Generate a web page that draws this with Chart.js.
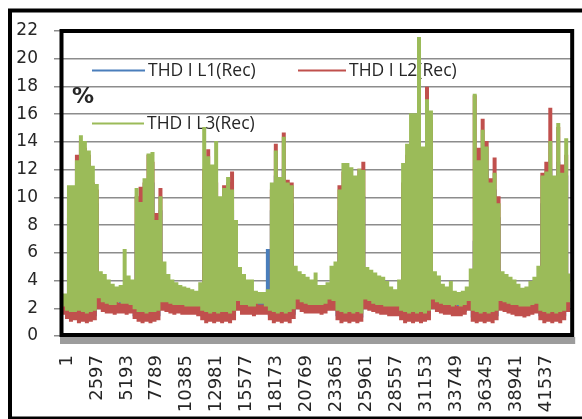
<!DOCTYPE html>
<html><head><meta charset="utf-8">
<script src="https://cdn.jsdelivr.net/npm/chart.js@4.4.1/dist/chart.umd.min.js"></script>
<style>html,body{margin:0;padding:0;background:#fff}</style>
</head><body>
<canvas id="c" width="582" height="419" style="width:582px;height:419px;display:block"></canvas>
<script>
// ---- data (each bin = one min/max pair of the dense record) ----
const seriesNames = ['THD I L1(Rec)', 'THD I L2(Rec)', 'THD I L3(Rec)'];
const xTickLabels = [1,2597,5193,7789,10385,12981,15577,18173,20769,23365,25961,28557,31153,33749,36345,38941,41537];
const recordsPerBin = 345;

const l3High = [3.0,10.8,10.8,12.6,14.4,14.0,13.3,12.2,10.9,4.6,4.4,4.0,3.7,3.5,3.6,6.2,4.3,4.0,10.6,9.6,11.3,13.1,13.2,8.3,10.0,5.3,4.4,4.0,3.8,3.6,3.5,3.4,3.3,3.2,3.8,15.0,12.9,12.3,14.0,10.0,10.6,11.4,10.5,8.3,4.9,4.4,4.0,4.0,3.2,3.1,3.1,3.3,11.0,13.3,11.4,14.3,11.0,10.8,5.0,4.6,4.4,4.2,4.0,4.5,3.6,3.6,3.8,5.0,5.3,10.5,12.4,12.4,12.1,11.5,12.0,11.9,4.9,4.7,4.5,4.3,4.2,3.9,3.5,3.3,4.0,12.4,13.8,16.0,16.0,21.5,13.6,17.0,16.2,4.6,4.3,3.7,3.5,3.9,3.2,3.1,3.2,3.5,4.8,17.4,12.6,14.8,13.6,11.0,11.7,9.5,4.6,4.4,4.2,4.0,3.7,3.4,3.5,3.9,4.2,5.0,11.5,11.8,14.0,11.5,15.3,11.7,14.2,4.5];
const l3Low  = [2.2,1.9,1.8,1.8,1.9,1.8,1.7,1.8,1.9,2.8,2.5,2.4,2.3,2.3,2.5,2.4,2.4,2.3,2.0,1.8,1.8,1.7,1.8,1.8,1.9,2.5,2.5,2.4,2.3,2.3,2.3,2.2,2.2,2.2,2.2,1.9,1.8,1.7,1.8,1.7,1.8,1.8,1.7,1.9,2.6,2.3,2.3,2.2,2.2,2.4,2.4,2.2,1.9,1.8,1.7,1.8,1.7,1.8,2.0,2.7,2.5,2.4,2.3,2.3,2.3,2.3,2.4,2.7,2.6,1.9,1.8,1.7,1.8,1.7,1.8,1.7,2.7,2.6,2.4,2.3,2.3,2.2,2.2,2.2,2.2,1.9,1.8,1.7,1.8,1.7,1.8,1.7,1.9,2.7,2.5,2.4,2.3,2.3,2.2,2.3,2.2,2.3,2.6,1.9,1.8,1.7,1.8,1.7,1.8,1.9,2.6,2.5,2.4,2.3,2.3,2.2,2.2,2.2,2.3,2.4,1.9,1.8,1.7,1.8,1.7,1.8,1.9,2.5];
const l2High = [2.3,10.0,10.5,13.0,14.0,13.5,13.0,11.0,10.5,2.9,2.6,2.5,2.4,2.4,2.3,2.5,2.5,2.4,10.0,10.7,11.0,13.0,12.5,8.8,10.6,3.2,2.8,2.5,2.4,2.4,2.4,2.3,2.3,2.3,2.3,12.0,13.4,11.7,11.0,9.0,10.8,11.0,11.8,8.0,2.8,2.4,2.4,2.3,2.3,2.2,2.2,2.3,10.5,13.8,11.0,14.6,11.2,11.0,3.0,3.1,2.8,2.5,2.5,2.4,2.4,2.4,2.6,2.9,3.0,10.8,11.8,11.5,11.0,11.0,12.0,12.5,3.1,2.8,2.6,2.5,2.4,2.3,2.3,2.3,2.3,11.0,13.0,13.8,15.5,16.0,13.0,17.9,15.5,3.2,2.8,2.6,2.4,2.4,2.3,2.1,2.3,2.5,3.1,17.3,13.5,15.6,14.0,11.3,12.8,10.0,2.9,2.8,2.6,2.5,2.2,2.1,2.1,2.3,2.5,2.7,11.7,12.5,16.4,11.0,15.0,12.3,13.0,3.0];
const l2Low  = [1.6,1.3,1.1,1.2,1.0,1.1,1.0,1.1,1.2,2.0,1.8,1.7,1.7,1.6,1.7,1.7,1.6,1.7,1.3,1.1,1.0,1.1,1.0,1.1,1.2,1.9,1.8,1.7,1.6,1.7,1.6,1.6,1.6,1.6,1.5,1.2,1.0,1.1,1.0,1.1,1.0,1.1,1.0,1.2,1.9,1.6,1.6,1.6,1.5,1.6,1.6,1.6,1.2,1.0,1.1,1.0,1.1,1.0,1.3,2.0,1.8,1.7,1.7,1.7,1.7,1.6,1.7,1.9,1.9,1.2,1.0,1.1,1.0,1.1,1.0,1.1,2.0,1.9,1.8,1.7,1.6,1.6,1.5,1.5,1.5,1.2,1.0,1.1,1.0,1.1,1.0,1.1,1.2,2.0,1.8,1.7,1.6,1.6,1.5,1.5,1.5,1.6,1.9,1.1,1.0,1.1,1.0,1.1,1.0,1.2,1.9,1.8,1.7,1.6,1.5,1.5,1.4,1.5,1.6,1.7,1.2,1.0,1.1,1.0,1.1,1.0,1.2,1.8];
const l1High = [2.1,8.5,9.0,10.5,12.0,12.0,11.5,10.5,9.5,2.6,2.4,2.3,2.2,2.2,2.4,2.3,2.3,2.2,8.0,8.5,9.5,11.0,11.0,7.5,9.0,2.8,2.5,2.3,2.2,2.2,2.2,2.1,2.1,2.1,2.1,10.5,11.0,10.5,10.0,8.0,9.0,9.5,9.0,7.0,2.5,2.2,2.2,2.1,2.1,2.3,2.3,6.2,9.0,11.5,10.0,12.0,9.5,9.5,2.6,2.7,2.5,2.3,2.3,2.2,2.2,2.2,2.3,2.6,2.7,9.0,10.5,10.5,10.0,9.5,10.0,10.0,2.8,2.6,2.4,2.3,2.2,2.1,2.1,2.1,2.1,10.0,11.5,12.5,13.0,14.0,11.5,14.5,13.5,2.8,2.5,2.4,2.2,2.2,2.1,2.2,2.1,2.3,2.8,6.8,11.0,12.5,12.0,9.5,10.5,8.5,2.6,2.5,2.4,2.3,2.25,2.15,2.15,2.1,2.3,2.5,9.5,10.0,12.0,9.5,12.5,10.0,11.5,2.7];
const l1Low  = [1.8,1.5,1.4,1.4,1.5,1.4,1.3,1.4,1.5,2.2,2.0,1.9,1.9,1.8,1.9,1.9,1.9,1.9,1.5,1.4,1.3,1.4,1.3,1.4,1.5,2.1,2.0,1.9,1.8,1.9,1.8,1.8,1.8,1.8,1.8,1.5,1.3,1.4,1.3,1.4,1.3,1.4,1.3,1.5,2.1,1.8,1.8,1.8,1.7,1.8,1.8,1.8,1.5,1.3,1.4,1.3,1.4,1.3,1.6,2.2,2.0,1.9,1.9,1.9,1.9,1.8,1.9,2.1,2.1,1.5,1.3,1.4,1.3,1.4,1.3,1.4,2.2,2.1,2.0,1.9,1.8,1.8,1.7,1.7,1.7,1.5,1.3,1.4,1.3,1.4,1.3,1.4,1.5,2.2,2.0,1.9,1.8,1.8,1.7,1.7,1.7,1.8,2.1,1.4,1.3,1.4,1.3,1.4,1.3,1.5,2.1,2.0,1.9,1.8,1.7,1.7,1.6,1.7,1.8,1.9,1.5,1.3,1.4,1.3,1.4,1.3,1.5,2.0];

// ---- build min/max traces ----
function trace(low, high) {
  const pts = [];
  for (let i = 0; i < low.length; i++) {
    pts.push({ x: 1 + i * recordsPerBin, y: low[i] });
    pts.push({ x: 1 + i * recordsPerBin + recordsPerBin / 2, y: high[i] });
  }
  return pts;
}
const colors = ['#4a7ebb', '#c0504d', '#9bbb59'];
const traces = [trace(l1Low, l1High), trace(l2Low, l2High), trace(l3Low, l3High)];

const decor = {
  id: 'decor',
  beforeDatasetsDraw(chart) {
    const ctx = chart.ctx;
    ctx.save();
    const items = [[0, 92, 145, 70.5], [1, 298, 346, 70.5], [2, 92, 144, 123.5]];
    ctx.font = '17.5px "Open Sans"';
    ctx.textBaseline = 'middle';
    ctx.fillStyle = '#262626';
    items.forEach(([i, x0, x1, y]) => {
      const ds = chart.data.datasets[i];
      ctx.strokeStyle = ds.borderColor;
      ctx.lineWidth = 2;
      ctx.beginPath(); ctx.moveTo(x0, y); ctx.lineTo(x1, y); ctx.stroke();
      ctx.fillText(ds.label, x1 + 3, y + 1);
    });
    ctx.font = 'bold 22px "DejaVu Sans"';
    ctx.fillText('%', 72, 97);
    ctx.restore();
  },
  afterDraw(chart) {
    const ctx = chart.ctx, a = chart.chartArea;
    ctx.save();
    ctx.fillStyle = '#9c9c9c';
    ctx.fillRect(a.left - 2, a.bottom + 1, a.right - a.left + 6, 7);
    ctx.strokeStyle = '#000';
    ctx.lineWidth = 4;
    ctx.strokeRect(a.left - 0.5, a.top, a.right - a.left + 1.5, a.bottom - a.top - 1);
    ctx.strokeRect(10, 10.5, 578, 408);
    ctx.restore();
  }
};

new Chart(document.getElementById('c'), {
  type: 'line',
  data: {
    datasets: traces.map((d, i) => ({
      label: seriesNames[i], data: d, borderColor: colors[i], backgroundColor: colors[i],
      borderWidth: 2, pointRadius: 0, stepped: true, fill: false, order: 2 - i
    }))
  },
  options: {
    responsive: false, animation: false, devicePixelRatio: 1, parsing: false,
    layout: { padding: { top: 31, right: 8, left: 0, bottom: 0 } },
    plugins: { legend: { display: false }, tooltip: { enabled: false } },
    scales: {
      x: {
        type: 'linear', min: 1, max: 1 + l3High.length * recordsPerBin,
        grid: { display: false, drawTicks: false }, border: { display: false },
        afterBuildTicks: s => { s.ticks = xTickLabels.map(v => ({ value: v })); },
        afterFit: s => { s.height = 83; },
        ticks: { minRotation: 90, maxRotation: 90, autoSkip: false, padding: 19, labelOffset: 5,
          font: { family: 'DejaVu Sans', size: 18 }, color: '#262626', callback: v => String(v) }
      },
      y: {
        min: 0, max: 22,
        afterFit: s => { s.width = 62; },
        ticks: { stepSize: 2, padding: 16, font: { family: 'DejaVu Sans', size: 17 }, color: '#262626' },
        grid: { color: '#8c8c8c', lineWidth: 1.5, tickLength: 8, drawTicks: true },
        border: { display: false }
      }
    }
  },
  plugins: [decor]
});
</script>
</body></html>
